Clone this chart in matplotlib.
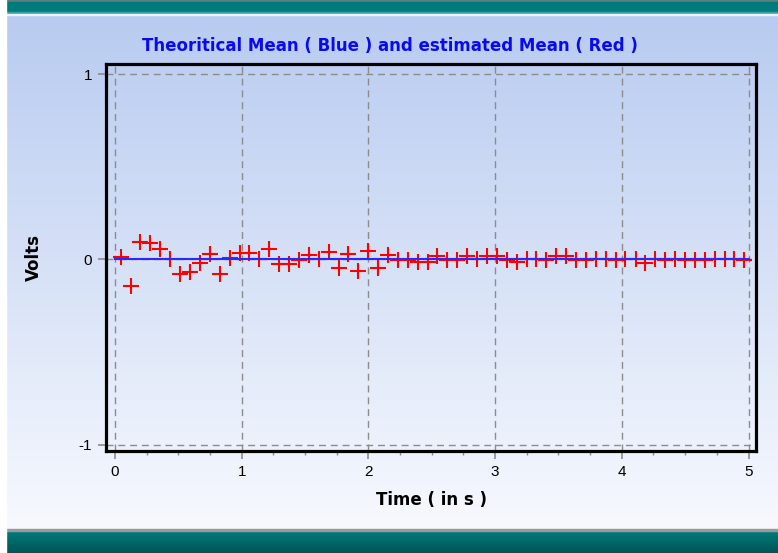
import numpy as np
import matplotlib
matplotlib.use("Agg")
import matplotlib.pyplot as plt
from matplotlib.ticker import MultipleLocator

plt.rcParams['font.family'] = ['Liberation Sans', 'DejaVu Sans']
plt.rcParams['axes.unicode_minus'] = False

# estimated mean (red crosses), sampled every ~0.078 s
times = [0.045, 0.123, 0.201, 0.279, 0.358, 0.436, 0.514, 0.592, 0.670, 0.748,
         0.826, 0.904, 0.983, 1.061, 1.139, 1.217, 1.295, 1.373, 1.451, 1.529,
         1.608, 1.686, 1.764, 1.842, 1.920, 1.998, 2.076, 2.154, 2.233, 2.311,
         2.389, 2.467, 2.545, 2.623, 2.701, 2.779, 2.858, 2.936, 3.014, 3.092,
         3.170, 3.248, 3.326, 3.404, 3.483, 3.561, 3.639, 3.717, 3.795, 3.873,
         3.951, 4.029, 4.108, 4.186, 4.264, 4.342, 4.420, 4.498, 4.576, 4.654,
         4.733, 4.811, 4.889, 4.967]
est_mean = [0.012, -0.145, 0.094, 0.088, 0.054, 0.0, -0.078, -0.069, -0.018, 0.031,
            -0.081, 0.009, 0.036, 0.036, 0.004, 0.055, -0.023, -0.023, -0.005, 0.022,
            0.0, 0.040, -0.047, 0.031, -0.060, 0.043, -0.047, 0.022, -0.005, -0.005,
            -0.015, -0.015, 0.016, -0.005, -0.005, 0.016, 0.0, 0.016, 0.016, -0.005,
            -0.015, 0.0, 0.0, -0.005, 0.020, 0.020, -0.005, -0.005, 0.0, 0.0,
            -0.005, 0.0, 0.0, -0.018, 0.0, -0.005, 0.0, -0.005, -0.005, -0.005,
            0.0, 0.0, 0.0, -0.005]

# theoretical mean (blue line)
theo_t = [0, 5]
theo_mean = [0, 0]

W, H = 778, 553
fig = plt.figure(figsize=(W / 100, H / 100), dpi=100)

# background: light blue -> white gradient with teal bands top and bottom
bg = fig.add_axes([0, 0, 1, 1], zorder=-5)
bg.axis('off')
top_c = np.array([184, 203, 240]) / 255
bot_c = np.array([247, 249, 254]) / 255
f = np.linspace(0, 1, 256)[:, None]
grad = top_c * (1 - f) + bot_c * f
bg.imshow(grad[:, None, :], extent=[0, W, 530, 15], aspect='auto')
bg.axhspan(0, 2, color='#5f7f7f')
bg.axhspan(2, 12, color='#007b7b')
bg.axhspan(12, 13.5, color='#3fa0a0')
bg.axhspan(13.5, 15, color='#eef2fb')
bg.axhspan(529, 531, color='#9a9a9a')
bot_grad = np.array([[0, 123, 123], [0, 85, 85]]) / 255
fb = np.linspace(0, 1, 64)[:, None]
bg.imshow((bot_grad[0] * (1 - fb) + bot_grad[1] * fb)[:, None, :],
          extent=[0, W, H, 531], aspect='auto')
bg.axvspan(0, 6, color='white', zorder=5)
bg.set_xlim(0, W)
bg.set_ylim(H, 0)

ax = fig.add_axes([106 / W, 1 - 451 / H, 650 / W, 387 / H])
ax.patch.set_alpha(0)

ax.plot(times, est_mean, linestyle='none', marker='+', color='#ff0000',
        markersize=12, markeredgewidth=1.5, zorder=3)
ax.plot(theo_t, theo_mean, color='#2828ff', linewidth=1.5, zorder=4)

ax.set_xlim(-0.071, 5.059)
ax.set_ylim(-1.033, 1.054)
ax.set_xticks([0, 1, 2, 3, 4, 5])
ax.xaxis.set_minor_locator(MultipleLocator(0.25))
ax.set_yticks([-1, 0, 1])
ax.grid(True, which='major', color='#8c8c8c', linestyle=(0, (5, 3.5)), linewidth=1.0)
ax.tick_params(which='major', direction='out', length=6, width=1.2, color='#8c8c8c',
               labelsize=11, pad=4)
ax.tick_params(which='minor', axis='x', direction='out', length=3, width=1.0, color='#8c8c8c')
for s in ax.spines.values():
    s.set_linewidth(2.3)
    s.set_color('black')

ax.set_xlabel('Time ( in s )', fontsize=12, fontweight='bold', labelpad=9,
              family='DejaVu Sans')
ax.set_ylabel('Volts', fontsize=12, fontweight='bold', labelpad=26,
              family='DejaVu Sans')

fig.text(389.5 / W, 1 - 46 / H, 'Theoritical Mean ( Blue ) and estimated Mean ( Red )',
         ha='center', va='center', color='#0a0af0', fontsize=12, fontweight='bold',
         family='DejaVu Sans')

fig.savefig('out.png', dpi=100)
